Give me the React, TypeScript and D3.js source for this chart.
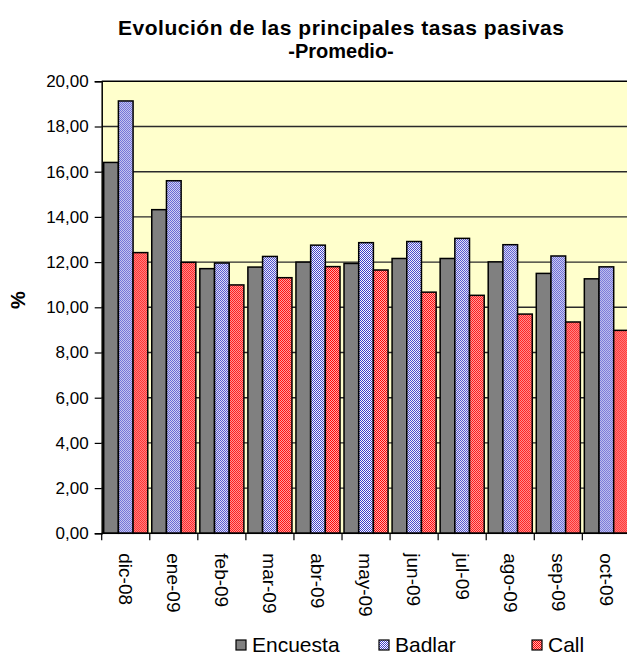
import { useEffect, useRef } from 'react';
import * as d3 from 'd3';

// Data
const months = ['dic-08', 'ene-09', 'feb-09', 'mar-09', 'abr-09', 'may-09', 'jun-09', 'jul-09', 'ago-09', 'sep-09', 'oct-09'];
const seriesNames = ['Encuesta', 'Badlar', 'Call'];
const encuesta = [16.41, 14.32, 11.71, 11.78, 12.0, 11.94, 12.16, 12.16, 12.01, 11.5, 11.26];
const badlar = [19.13, 15.6, 11.96, 12.25, 12.75, 12.86, 12.91, 13.05, 12.77, 12.27, 11.79];
const call = [12.42, 11.99, 10.99, 11.31, 11.8, 11.65, 10.67, 10.53, 9.7, 9.35, 8.98];
const yTicks = [0, 2, 4, 6, 8, 10, 12, 14, 16, 18, 20];

const W = 627;
const H = 655;
const font = '"Liberation Sans", Arial, sans-serif';

function App() {
  const ref = useRef(null);

  useEffect(() => {
    const svg = d3.select(ref.current);
    svg.selectAll('*').remove();

    // plot area (the right side runs past the picture edge, as in the original)
    const left = 101.7, right = 630.4, top = 81.3, bottom = 533.3;

    const x = d3.scaleBand().domain(months).range([left, right]).padding(0);
    const x1 = d3.scaleBand().domain(seriesNames).range([0, x.bandwidth()]).paddingInner(0).paddingOuter(0.136);
    const y = d3.scaleLinear().domain([0, 20]).range([bottom, top]);

    const fmt = (v: number) => d3.format('.2f')(v).replace('.', ',');

    // Patterns
    const defs = svg.append('defs');
    const checker = (id: string, a: string, b: string) => {
      const p = defs.append('pattern').attr('id', id).attr('patternUnits', 'userSpaceOnUse')
        .attr('width', 2).attr('height', 2);
      p.append('rect').attr('width', 2).attr('height', 2).attr('fill', b);
      p.append('rect').attr('width', 1).attr('height', 1).attr('fill', a);
      p.append('rect').attr('x', 1).attr('y', 1).attr('width', 1).attr('height', 1).attr('fill', a);
    };
    checker('blueCheck', '#3a3ac8', '#ffffff');
    checker('redCheck', '#ff0000', '#ffb4b4');

    const fills: any = { Encuesta: '#808080', Badlar: 'url(#blueCheck)', Call: 'url(#redCheck)' };

    // Background
    svg.append('rect').attr('x', left).attr('y', top).attr('width', right - left).attr('height', bottom - top)
      .attr('fill', '#ffffcc');

    // Gridlines
    svg.append('g').selectAll('line').data(yTicks.filter((d) => d > 0)).enter().append('line')
      .attr('x1', left).attr('x2', right)
      .attr('y1', (d) => y(d)).attr('y2', (d) => y(d))
      .attr('stroke', (d) => (d === 20 ? '#000' : '#2a2a2a')).attr('stroke-width', 1.4);

    // Bars
    const rows = months.map((m, i) => ({ month: m, values: [encuesta[i], badlar[i], call[i]] }));
    const groups = svg.append('g').selectAll('g').data(rows).enter().append('g')
      .attr('transform', (d) => `translate(${x(d.month)},0)`);
    groups.selectAll('rect').data((d) => d.values.map((v, j) => ({ name: seriesNames[j], v }))).enter()
      .append('rect')
      .attr('x', (d) => x1(d.name) as number)
      .attr('width', x1.bandwidth())
      .attr('y', (d) => y(d.v))
      .attr('height', (d) => bottom - y(d.v))
      .attr('fill', (d) => fills[d.name])
      .attr('stroke', '#000').attr('stroke-width', 1.5);

    // Y axis
    const yAxis = svg.append('g').attr('transform', `translate(${left},0)`)
      .call(d3.axisLeft(y).tickValues(yTicks).tickFormat((d: any) => fmt(d)).tickSize(7).tickPadding(6));
    yAxis.select('.domain').attr('stroke', '#000').attr('stroke-width', 1.5);
    yAxis.selectAll('line').attr('stroke', '#000').attr('stroke-width', 1.2);
    yAxis.selectAll('text').attr('font-family', font).attr('font-size', 17).attr('fill', '#000');

    // X axis
    const xTickPos = months.map((m) => x(m) as number);
    svg.append('line').attr('x1', left).attr('x2', right).attr('y1', bottom).attr('y2', bottom)
      .attr('stroke', '#000').attr('stroke-width', 1.5);
    svg.append('g').selectAll('line').data(xTickPos).enter().append('line')
      .attr('x1', (d) => d).attr('x2', (d) => d).attr('y1', bottom).attr('y2', bottom + 7)
      .attr('stroke', '#000').attr('stroke-width', 1.2);
    svg.append('g').selectAll('text').data(months).enter().append('text')
      .attr('transform', (d) => `translate(${(x(d) as number) + x.bandwidth() / 2},${bottom + 20}) rotate(90)`)
      .attr('dy', '0.35em')
      .attr('font-family', font).attr('font-size', 19).attr('fill', '#000')
      .text((d) => d);

    // Y title
    svg.append('text').attr('transform', `translate(25,300) rotate(-90)`)
      .attr('text-anchor', 'middle').attr('font-family', font).attr('font-size', 20).attr('font-weight', 'bold')
      .text('%');

    // Title
    const title = svg.append('text').attr('text-anchor', 'middle').attr('font-family', font)
      .attr('font-size', 21).attr('font-weight', 'bold').attr('fill', '#000');
    title.append('tspan').attr('x', 341).attr('y', 35)
      .attr('textLength', 446).attr('lengthAdjust', 'spacing')
      .text('Evolución de las principales tasas pasivas');
    title.append('tspan').attr('x', 341).attr('y', 58).attr('font-size', 20).text('-Promedio-');

    // Legend
    const legendX = [236, 379, 532];
    const lg = svg.append('g').selectAll('g').data(seriesNames).enter().append('g')
      .attr('transform', (_, i) => `translate(${legendX[i]},${640})`);
    lg.append('rect').attr('width', 10).attr('height', 10)
      .attr('fill', (d) => fills[d]).attr('stroke', '#000').attr('stroke-width', 1.2);
    lg.append('text').attr('x', 16).attr('y', 5).attr('dy', '0.35em')
      .attr('font-family', font).attr('font-size', 21).attr('fill', '#000')
      .text((d) => d);
  }, []);

  return (
    <svg ref={ref} width={W} height={H} style={{ position: 'absolute', left: 0, top: 0, background: '#fff' }} />
  );
}

export default App;
